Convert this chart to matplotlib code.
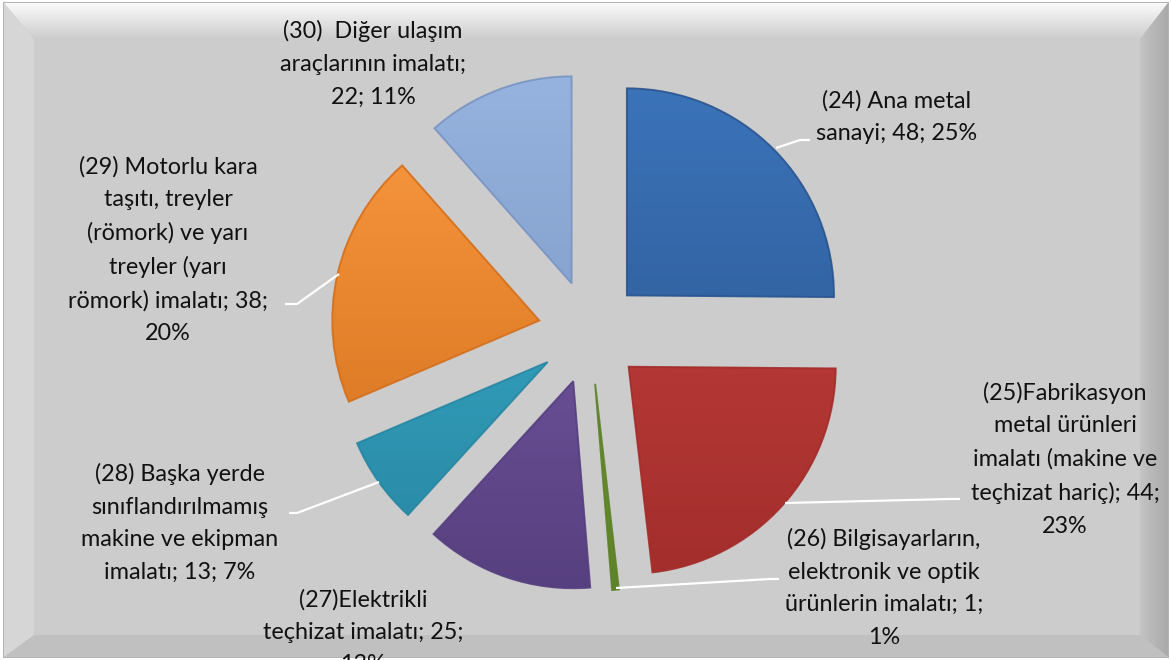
import numpy as np
import matplotlib
matplotlib.use("Agg")
import matplotlib.pyplot as plt
from matplotlib.colors import LinearSegmentedColormap
from matplotlib.patches import Polygon, Rectangle, Wedge

# data
codes = ["24", "25", "26", "27", "28", "29", "30"]
values = [48, 44, 1, 25, 13, 38, 22]
percents = [25, 23, 1, 13, 7, 20, 11]
label_templates = [
    "(24) Ana metal\nsanayi; {v}; {p}%",
    "(25)Fabrikasyon\nmetal ürünleri\nimalatı (makine ve\nteçhizat hariç); {v};\n{p}%",
    "(26) Bilgisayarların,\nelektronik ve optik\nürünlerin imalatı; {v};\n{p}%",
    "(27)Elektrikli\nteçhizat imalatı; {v};\n{p}%",
    "(28) Başka yerde\nsınıflandırılmamış\nmakine ve ekipman\nimalatı; {v}; {p}%",
    "(29) Motorlu kara\ntaşıtı, treyler\n(römork) ve yarı\ntreyler (yarı\nrömork) imalatı; {v};\n{p}%",
    "(30)  Diğer ulaşım\naraçlarının imalatı;\n{v}; {p}%",
]
# (top colour, bottom colour) per slice
slice_colors = [
    ("#3b73b9", "#2b5690"),
    ("#c4413d", "#a32e2c"),
    ("#7aa23a", "#5e8228"),
    ("#785aa4", "#574080"),
    ("#3aaecb", "#2887a3"),
    ("#f8983f", "#d4701d"),
    ("#95b3de", "#7a95c2"),
]

W, H = 1171, 660
fig = plt.figure(figsize=(W / 100, H / 100), dpi=100)
fig.patch.set_facecolor("white")
ax = fig.add_axes([0, 0, 1, 1])


def fy(y):
    # convert y measured from the top of the picture
    return H - y


# ---- bevelled grey background ----
x0, x1, y0, y1 = 4, 1168, 3, 657
bt, bl, br, bb = 36, 30, 28, 22
ax.add_patch(Rectangle((x0 - 1, fy(y1) - 1), x1 - x0 + 2, y1 - y0 + 2,
                       facecolor="#b4b4b4", edgecolor="none", zorder=0))
frame = Rectangle((x0, fy(y1)), x1 - x0, y1 - y0, facecolor="#cccccc",
                  edgecolor="none", zorder=0.1)
ax.add_patch(frame)
top = Polygon([(x0, fy(y0)), (x1, fy(y0)), (x1 - br, fy(y0 + bt)), (x0 + bl, fy(y0 + bt))],
              closed=True, facecolor="none", edgecolor="none", zorder=0.2)
ax.add_patch(top)
grad = np.linspace(0, 1, 64).reshape(-1, 1)
cm_top = LinearSegmentedColormap.from_list("t", ["#cdcdcd", "#fafafa"])
im = ax.imshow(grad, extent=(x0, x1, fy(y0 + bt), fy(y0)), origin="lower",
               cmap=cm_top, aspect="auto", zorder=0.2)
im.set_clip_path(top)
ax.add_patch(Polygon([(x0, fy(y0)), (x0 + bl, fy(y0 + bt)), (x0 + bl, fy(y1 - bb)), (x0, fy(y1))],
                     closed=True, facecolor="#d6d6d6", edgecolor="none", zorder=0.2))
right = Polygon([(x1, fy(y0)), (x1, fy(y1)), (x1 - br, fy(y1 - bb)), (x1 - br, fy(y0 + bt))],
                closed=True, facecolor="none", edgecolor="none", zorder=0.2)
ax.add_patch(right)
cm_r = LinearSegmentedColormap.from_list("r", ["#c4c4c4", "#a9a9a9"])
im = ax.imshow(np.linspace(0, 1, 64).reshape(1, -1), extent=(x1 - br, x1, fy(y1), fy(y0)),
               cmap=cm_r, aspect="auto", zorder=0.2)
im.set_clip_path(right)
ax.add_patch(Polygon([(x0, fy(y1)), (x1, fy(y1)), (x1 - br, fy(y1 - bb)), (x0 + bl, fy(y1 - bb))],
                     closed=True, facecolor="#c0c0c0", edgecolor="none", zorder=0.2))

# ---- exploded pie ----
cx, cy, R = 590, fy(332), 207
wedges, _ = ax.pie(values, center=(cx, cy), radius=R, startangle=90, counterclock=False,
                   explode=[52] * len(values),
                   colors=[c[0] for c in slice_colors],
                   wedgeprops=dict(edgecolor="none", linewidth=0))
for w, (ctop, cbot) in zip(wedges, slice_colors):
    w.set_zorder(1)
    wx, wy = w.center
    cmap = LinearSegmentedColormap.from_list("g", [cbot, ctop])
    im = ax.imshow(grad, extent=(wx - w.r, wx + w.r, wy - w.r, wy + w.r), origin="lower",
                   cmap=cmap, aspect="auto", zorder=1.1)
    im.set_clip_path(w)
    # thin darker rim to suggest the bevel
    ax.add_patch(Wedge(w.center, w.r, w.theta1, w.theta2, facecolor="none",
                       edgecolor=cbot, linewidth=1.4, alpha=0.9, zorder=1.2))

# ---- labels and leader lines ----
label_pos = [(897, 117), (1065, 459), (884, 588), (363, 632), (180, 523), (168, 250), (373, 64)]
for tmpl, v, p, (lx, ly) in zip(label_templates, values, percents, label_pos):
    t = ax.text(lx, fy(ly), tmpl.format(v=v, p=p), ha="center", va="center",
                fontsize=16.8, family=["Lato", "DejaVu Sans"], color="#111111",
                linespacing=1.68, zorder=3)
    t.set_clip_path(frame)

leaders = [
    [(776, 148), (800, 140), (810, 140)],
    [(785, 503), (950, 499), (960, 499)],
    [(616, 588), (770, 579), (779, 579)],
    [(379, 482), (297, 513), (289, 513)],
    [(339, 274), (297, 304), (285, 304)],
]
for pts in leaders:
    xs = [p[0] for p in pts]
    ys = [fy(p[1]) for p in pts]
    ax.plot(xs, ys, color="white", linewidth=1.6, zorder=2.5, solid_capstyle="butt")

ax.set_xlim(0, W)
ax.set_ylim(0, H)
ax.set_aspect("auto")
ax.axis("off")

fig.savefig("out.png", dpi=100, facecolor=fig.get_facecolor())
